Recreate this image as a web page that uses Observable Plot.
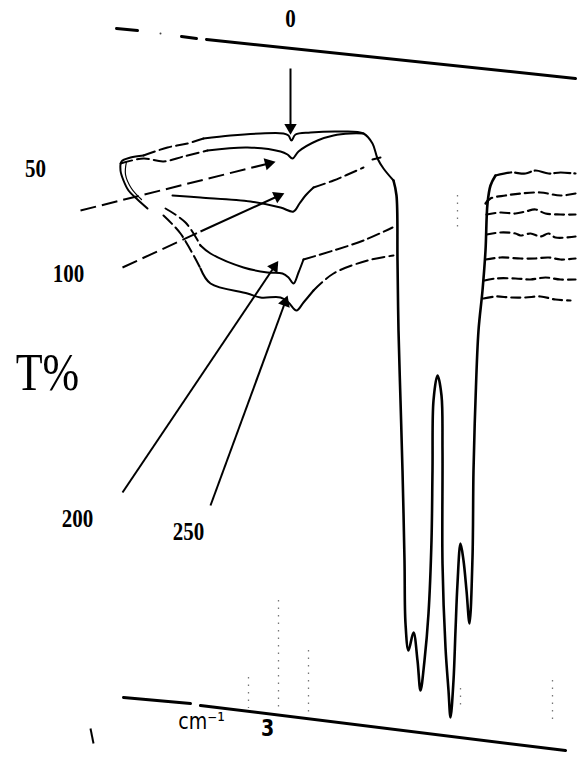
<!DOCTYPE html>
<html>
<head>
<meta charset="utf-8">
<script src="https://cdn.jsdelivr.net/npm/d3@7"></script>
<script src="https://cdn.jsdelivr.net/npm/@observablehq/plot@0.6"></script>
<style>
  html, body { margin: 0; padding: 0; background: #fff; }
  #chart svg { display: block; }
</style>
</head>
<body>
<div id="chart"></div>
<script>
// ---- Data (chart units: x = position across the sheet, y = down the sheet) ----
// Frame lines (top 0 %T baseline and bottom baseline)
const frameTop = [[116,28],[137,30]];
const frameTop2 = [[181,36],[196,38]];
const frameTop3 = [[206,39],[575,78]];
const frameBottom = [[123,697],[190,703]];
const frameBottom2 = [[200,705],[565,750]];

// Spectrum traces (labelled by the value on their arrows)
const trace0Tail = [[143,155],[167,147],[187,143],[203,138]];
const trace0 = [[203,138],[230,135],[260,133],[283,133],[288,135],[291,140],[295,134],[310,132],[340,131],[363,133],[372,143],[377,158],[383,168],[393,180]];
const trace50Tail = [[120,163],[143,158],[163,161],[183,156],[207,150]];
const trace50 = [[207,150],[247,147],[280,151],[287,154],[292,158],[298,151],[317,140],[333,135],[350,133],[363,133]];
const trace100 = [[172,195],[200,197],[250,201],[280,207],[293,211],[299,203],[305,195],[313,187]];
const trace100Tail = [[313,187],[333,180],[363,167]];
const trace100Dash = [[372,159],[380,157]];
const trace200Tail = [[165,208],[185,222],[200,245]];
const trace200 = [[200,245],[210,253],[243,267],[267,272],[282,273],[288,277],[293,283],[298,272],[303,259]];
const trace200Right = [[303,259],[333,250],[363,240],[392,227]];
const trace250Tail = [[163,215],[180,233],[200,268]];
const trace250 = [[200,268],[210,283],[247,293],[260,297],[280,297],[288,302],[296,310],[303,302],[313,290]];
const trace250Right = [[313,290],[333,273],[367,260],[393,255]];

// Main absorption band (common deep trace)
const band = [[393,180],[396,195],[397,260],[398,330],[400,400],[402,470],[404,560],[405,623],[408,650],[413,632],[417,660],[420,690],[424,660],[428,613],[431,540],[432,470],[433,400],[437,375],[441,395],[442,450],[442,563],[445,647],[448,690],[450,717],[453,680],[455,630],[457,583],[460,543],[463,560],[466,590],[469,623],[472,557],[473,470],[475,400],[478,330],[482,290],[485,250],[487,203],[490,185],[495,175]];

// Right-hand plateau traces
const right1 = [[495,175],[510,172],[525,173],[535,170],[548,173],[560,172],[575,173]];
const right2 = [[485,203],[490,198],[505,195],[520,193],[540,192],[560,195],[575,193]];
const right3 = [[486,214],[500,212],[515,213],[525,211],[535,209],[545,213],[560,214],[575,214]];
const right4 = [[486,234],[500,232],[515,233],[520,235],[530,233],[540,236],[548,233],[555,237],[575,236]];
const right5 = [[485,259],[500,257],[520,258],[535,258],[548,257],[560,259],[575,258]];
const right6 = [[484,280],[495,278],[515,278],[530,279],[545,277],[560,279],[575,279]];
const right7 = [[483,298],[495,296],[510,297],[525,297],[540,296],[555,299],[570,300]];

// Left hook
const hook = [[143,155],[130,157],[121,161],[120,170],[123,180],[128,190],[137,199],[147,208]];
const hookInner = [[126,161],[125,174],[131,188],[141,199]];

// Arrow labels and arrows
const arrowLabels = ["0","50","100","100","200","250"];
const arrowFrom = [[290,68],[80,210],[122,267],[200,231],[122,492],[210,505]];
const arrowTo   = [[290,131],[272,162],[200,231],[281,194],[276,263],[286,298]];
const arrowDashed = [false,true,true,false,false,false];
const arrowHead = [true,true,false,true,true,true];

// Text labels
const labelText = ["0","50","100","200","250"];
const labelPos = [[290,18],[35,168],[68,273],[77,518],[188,531]];
const axisTitle = "T%";
const axisTitlePos = [47,372];
const unitText = "cm⁻¹";
const unitPos = [201,721];
const tickText = "3";
const tickPos = [267,728];

// Faint dotted guide marks
const guides = [[248,677,708],[278,600,712],[308,650,714],[457,195,230],[460,688,706],[552,680,720]];
const smallTick = [[90,728],[93,743]];

// ---- Build tables ----
const rows = (name, pts) => pts.map(([x, y]) => ({name, x, y}));
const solidThin = [
  ...rows("t0", trace0), ...rows("t50", trace50), ...rows("t100", trace100),
  ...rows("t200", trace200), ...rows("t250", trace250), ...rows("hook", hook)
];
const dashedThin = [
  ...rows("t0tail", trace0Tail), ...rows("t50tail", trace50Tail), ...rows("t100tail", trace100Tail),
  ...rows("t100dash", trace100Dash), ...rows("t200tail", trace200Tail), ...rows("t200r", trace200Right),
  ...rows("t250tail", trace250Tail), ...rows("t250r", trace250Right)
];
const rightTraces = [right2, right3, right4, right5, right6, right7].flatMap((r, i) => rows("r" + i, r));
const frames = [
  ...rows("f1", frameTop), ...rows("f2", frameTop2), ...rows("f3", frameTop3),
  ...rows("f4", frameBottom), ...rows("f5", frameBottom2)
];
const arrows = arrowFrom.map((f, i) => {
  const [x1, y1] = f, [x2, y2] = arrowTo[i];
  const dx = x2 - x1, dy = y2 - y1, L = Math.hypot(dx, dy);
  return {label: arrowLabels[i], x1, y1, x2, y2, dashed: arrowDashed[i], head: arrowHead[i],
          hx: x2 - dx / L * 4, hy: y2 - dy / L * 4,
          angle: Math.atan2(dx, -dy) * 180 / Math.PI};
});
const labels = labelText.map((t, i) => ({t, x: labelPos[i][0], y: labelPos[i][1]}));
const guideRows = guides.map(([x, y1, y2]) => ({x, y1, y2}));

const serif = "'Liberation Serif', 'DejaVu Serif', serif";
const curve = "catmull-rom";

const plot = Plot.plot({
  width: 581,
  height: 758,
  margin: 0,
  x: {domain: [0, 581], range: [0, 581], axis: null},
  y: {domain: [0, 758], range: [0, 758], axis: null},
  style: {background: "#fff"},
  marks: [
    Plot.ruleX(guideRows, {x: "x", y1: "y1", y2: "y2", stroke: "#777", strokeWidth: 1.3, strokeDasharray: "1.5,6"}),
    Plot.line(frames, {x: "x", y: "y", z: "name", stroke: "#000", strokeWidth: 3}),
    Plot.dot([[160,33]], {x: d => d[0], y: d => d[1], r: 1, fill: "#444"}),
    Plot.line(solidThin, {x: "x", y: "y", z: "name", stroke: "#000", strokeWidth: 2, curve}),
    Plot.line(rows("hin", hookInner), {x: "x", y: "y", stroke: "#000", strokeWidth: 1.2, curve}),
    Plot.line(dashedThin, {x: "x", y: "y", z: "name", stroke: "#000", strokeWidth: 2, strokeDasharray: "12,5", curve}),
    Plot.line(rows("band", band), {x: "x", y: "y", stroke: "#000", strokeWidth: 2.6, strokeLinejoin: "round", curve}),
    Plot.line(rows("r1", right1), {x: "x", y: "y", stroke: "#000", strokeWidth: 2.2, strokeDasharray: "16,4", curve}),
    Plot.line(rightTraces, {x: "x", y: "y", z: "name", stroke: "#000", strokeWidth: 2.2, strokeDasharray: "9,5", curve}),
    Plot.link(arrows.filter(d => !d.dashed), {x1: "x1", y1: "y1", x2: "x2", y2: "y2", stroke: "#000", strokeWidth: 2}),
    Plot.link(arrows.filter(d => d.dashed), {x1: "x1", y1: "y1", x2: "x2", y2: "y2", stroke: "#000", strokeWidth: 2, strokeDasharray: "16,6"}),
    Plot.dot(arrows.filter(d => d.head), {x: "hx", y: "hy", symbol: "triangle", r: 4.6, fill: "#000", stroke: "none", rotate: "angle"}),
    Plot.link([smallTick], {x1: d => d[0][0], y1: d => d[0][1], x2: d => d[1][0], y2: d => d[1][1], stroke: "#000", strokeWidth: 2}),
    Plot.text(labels, {x: "x", y: "y", text: "t", fontFamily: serif, fontWeight: "bold", fontSize: 21, fill: "#000"}),
    Plot.text([axisTitle], {x: axisTitlePos[0], y: axisTitlePos[1], text: d => d, fontFamily: serif, fontSize: 44, fill: "#000"}),
    Plot.text([unitText], {x: unitPos[0], y: unitPos[1], text: d => d, fontFamily: "'DejaVu Sans', sans-serif", fontSize: 19, fill: "#000"}),
    Plot.text([tickText], {x: tickPos[0], y: tickPos[1], text: d => d, fontFamily: "'DejaVu Sans', sans-serif", fontWeight: "bold", fontSize: 19, fill: "#000"})
  ]
});

// stretch the scanned-looking lettering vertically, as in the original figure
d3.select(plot).selectAll("g[aria-label='text'] text").each(function () {
  const t = this.getAttribute("transform") || "";
  this.setAttribute("transform", t + " scale(1,1.22)");
});

document.getElementById("chart").appendChild(plot);
</script>
</body>
</html>
